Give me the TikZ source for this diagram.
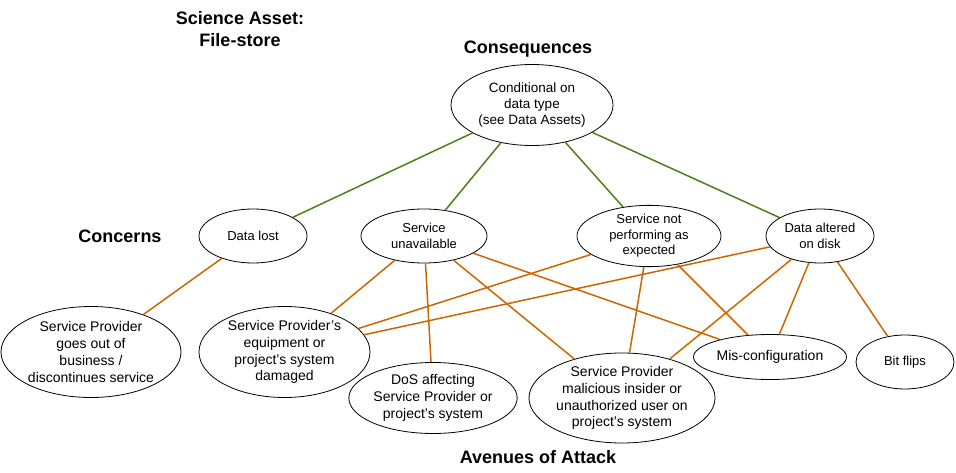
\documentclass[tikz,border=0pt]{standalone}
\usepackage{fontspec}
\setmainfont{Liberation Sans}
\usepackage{xcolor}
\usetikzlibrary{shapes.geometric}
\definecolor{consgreen}{RGB}{77,128,26}
\definecolor{attackorange}{RGB}{204,102,0}
\newcommand{\fsize}[1]{\fontsize{#1}{1.2\dimexpr#1pt\relax}\selectfont}

\begin{document}
\begin{tikzpicture}[x=1pt, y=-1pt]
        \tikzstyle{bubble}=[draw, ellipse, inner sep=0pt, align=center, line width=0.8pt, font=\fsize{13}]
        \tikzstyle{avenue}=[bubble, font=\fsize{14}]
        \tikzstyle{heading}=[align=center, font=\fsize{18}\bfseries]
        \tikzstyle{conslink}=[draw=consgreen, line width=1.5pt]
        \tikzstyle{attacklink}=[draw=attackorange, line width=1.5pt]
        \useasboundingbox (0,0) rectangle (956,473);
        % headings
        \node[heading] (asset) at (240,29) {Science Asset:\\File-store};
        \node[heading] (conshead) at (528,49) {Consequences};
        \node[heading] (concernhead) at (120,236) {Concerns};
        \node[heading] (attackhead) at (538,457) {Avenues of Attack};
        % consequence
        \node[bubble, font=\fsize{13.5}, minimum width=162, minimum height=81] (cond) at (532,105) {Conditional on\\data type\\(see Data Assets)};
        % concerns
        \node[bubble, minimum width=108, minimum height=54] (lost) at (253,236) {Data lost};
        \node[bubble, minimum width=126, minimum height=54] (unavail) at (424,236) {Service\\unavailable};
        \node[bubble, minimum width=144, minimum height=54] (notperf) at (649,236) {Service not\\performing as\\expected};
        \node[bubble, minimum width=108, minimum height=54] (altered) at (820,236) {Data altered\\on disk};
        % avenues of attack
        \node[avenue, minimum width=180, minimum height=91] (outofbiz) at (91,352) {Service Provider\\goes out of\\business /\\discontinues service};
        \node[avenue, minimum width=171, minimum height=91] (damaged) at (284.5,352) {Service Provider’s\\equipment or\\project’s system\\damaged};
        \node[avenue, minimum width=163, minimum height=71] (dos) at (433,398) {DoS affecting\\Service Provider or\\project’s system};
        \node[avenue, minimum width=180, minimum height=90] (insider) at (622,398) {Service Provider\\malicious insider or\\unauthorized user on\\project’s system};
        \node[avenue, minimum width=153, minimum height=45] (misconf) at (770,357) {Mis-configuration};
        \node[bubble, minimum width=98, minimum height=54] (bitflip) at (905,362) {Bit flips};
        % consequence links
        \foreach \c in {lost, unavail, notperf, altered}
            \draw[conslink] (cond) -- (\c);
        % attack links
        \draw[attacklink] (lost) -- (outofbiz);
        \draw[attacklink] (unavail) -- (damaged);
        \draw[attacklink] (unavail) -- (dos);
        \draw[attacklink] (unavail) -- (insider);
        \draw[attacklink] (unavail) -- (misconf);
        \draw[attacklink] (notperf) -- (damaged);
        \draw[attacklink] (notperf) -- (insider);
        \draw[attacklink] (notperf) -- (misconf);
        \draw[attacklink] (altered) -- (damaged);
        \draw[attacklink] (altered) -- (insider);
        \draw[attacklink] (altered) -- (misconf);
        \draw[attacklink] (altered) -- (bitflip);
    \end{tikzpicture}
\end{document}
